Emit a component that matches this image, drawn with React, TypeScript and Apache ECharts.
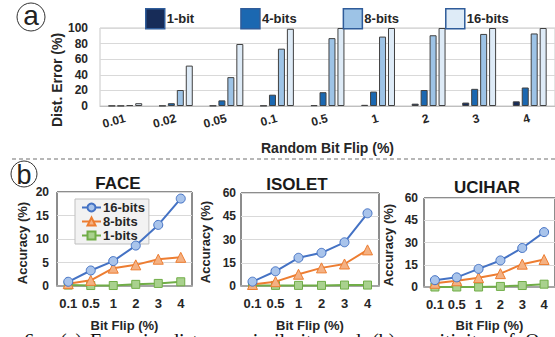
import React, { useEffect, useRef } from "react";
import * as echarts from "echarts";

const barCategories = ["0.01", "0.02", "0.05", "0.1", "0.5", "1", "2", "3", "4"];
const bar1bit = [0.3, 0.4, 0.5, 0.5, 1, 1.5, 3, 4.4, 6];
const bar4bits = [0.3, 3.6, 7.2, 14.5, 17.7, 18.5, 20.5, 22, 23.7];
const bar8bits = [1.2, 20.5, 37, 73.5, 87, 89, 90.7, 92.4, 93];
const bar16bits = [3.6, 51.8, 79.5, 99, 100, 100, 100, 100, 100];
const barYTicks = { min: 0, max: 100, interval: 20 };

const lineCategories = ["0.1", "0.5", "1", "2", "3", "4"];
const face16 = [0.9, 3.3, 5.3, 8.6, 13, 18.6];
const face8 = [0.5, 1.2, 3.8, 4.5, 5.7, 6.1];
const face1 = [0.2, 0.1, 0.1, 0.35, 0.55, 0.9];
const isolet16 = [2.8, 9.5, 18.2, 21.4, 28.2, 46.9];
const isolet8 = [1, 2.8, 7.6, 11.7, 14.2, 23.3];
const isolet1 = [0.4, 0.4, 0.4, 0.4, 0.6, 0.6];
const ucihar16 = [4.6, 6.5, 12.2, 17.9, 26.3, 37];
const ucihar8 = [2.5, 4.2, 6.3, 9, 15.4, 18.5];
const ucihar1 = [0, 0, 0, 0.4, 1, 1.9];
const faceTicks = { min: 0, max: 20, interval: 5 };
const otherTicks = { min: 0, max: 60, interval: 15 };

const FONT = "Liberation Sans";
const TXT = "#262626";

const barColors = ["#172c58", "#1b68b1", "#9dc3e6", "#deebf7"];
const lineColors = { b16: "#4472c4", b8: "#ed7d31", b1: "#70ad47" };
const fillColors = { b16: "#a9c4eb", b8: "#f4b183", b1: "#a9d18e" };

export default function App() {
  const topRef = useRef<HTMLDivElement>(null);
  const botRef = useRef<HTMLDivElement>(null);

  useEffect(() => {
    document.body.style.margin = "0";
    const a = echarts.init(topRef.current!, undefined, { renderer: "svg" });
    const b = echarts.init(botRef.current!, undefined, { renderer: "svg" });

    const barNames = ["1-bit", "4-bits", "8-bits", "16-bits"];
    const barData = [bar1bit, bar4bits, bar8bits, bar16bits];

    a.setOption({
      animation: false,
      textStyle: { fontFamily: FONT },
      legend: {
        left: 140,
        top: 3,
        itemWidth: 19,
        itemHeight: 20,
        itemGap: 46,
        textStyle: { fontFamily: FONT, fontWeight: "bold", fontSize: 13, color: TXT, padding: [0, 0, 0, -3] },
        data: barNames.map((n, i) => ({
          name: n,
          icon: "rect",
          itemStyle: { color: barColors[i], borderColor: "#2f5c9a", borderWidth: 1.5 },
        })),
      },
      grid: { left: 100, right: 0, top: 28, bottom: 49, show: true, borderColor: "#c8c8c8", borderWidth: 1 },
      xAxis: {
        type: "category",
        data: barCategories,
        axisTick: { show: false },
        axisLine: { lineStyle: { color: "#bfbfbf", width: 1 } },
        axisLabel: {
          rotate: 15,
          fontFamily: FONT,
          fontWeight: "bold",
          fontSize: 12,
          color: TXT,
          margin: 12,
        },
        name: "Random Bit Flip (%)",
        nameLocation: "middle",
        nameGap: 35,
        nameTextStyle: { fontFamily: FONT, fontWeight: "bold", fontSize: 14, color: TXT },
      },
      yAxis: {
        type: "value",
        min: barYTicks.min,
        max: barYTicks.max,
        interval: barYTicks.interval,
        axisLine: { show: false },
        axisTick: { show: false },
        axisLabel: { fontFamily: FONT, fontWeight: "bold", fontSize: 12, color: TXT, margin: 12 },
        splitLine: { lineStyle: { color: "#d9d9d9", width: 1 } },
      },
      series: barNames.map((n, i) => ({
        name: n,
        type: "bar",
        data: barData[i],
        barWidth: 7,
        barGap: "28%",
        itemStyle: { color: barColors[i], borderColor: "#404040", borderWidth: 1 },
      })),
      graphic: [
        { type: "circle", shape: { cx: 31, cy: 17, r: 14 }, style: { fill: "none", stroke: "#333", lineWidth: 1 } },
        {
          type: "text",
          x: 31,
          y: 15.5,
          style: { text: "a", fontFamily: FONT, fontSize: 28, fill: "#222", align: "center", verticalAlign: "middle" },
        },
        {
          type: "text",
          x: 57,
          y: 80,
          rotation: Math.PI / 2,
          style: {
            text: "Dist. Error (%)",
            fontFamily: FONT,
            fontWeight: "bold",
            fontSize: 14,
            fill: TXT,
            align: "center",
            verticalAlign: "middle",
          },
        },
        {
          type: "line",
          shape: { x1: 12, y1: 159, x2: 555, y2: 159 },
          style: { stroke: "#a0a0a0", lineWidth: 1.5, lineDash: [4, 3] },
        },
      ],
    });

    const grids = [
      { left: 57, width: 135, top: 32, height: 96 },
      { left: 241, width: 138, top: 33, height: 95 },
      { left: 424, width: 139, top: 38, height: 95 },
    ];
    const ticks = [faceTicks, otherTicks, otherTicks];
    const yMargins = [8, 5, 6];
    const nameGaps = [33, 33, 32];
    const datasets = [
      [face16, face8, face1],
      [isolet16, isolet8, isolet1],
      [ucihar16, ucihar8, ucihar1],
    ];
    const lineNames = ["16-bits", "8-bits", "1-bits"];
    const keys: Array<"b16" | "b8" | "b1"> = ["b16", "b8", "b1"];
    const symbols = ["circle", "triangle", "rect"];
    const symbolSizes = [9, 10, 8];

    const series: any[] = [];
    datasets.forEach((ds, gi) => {
      ds.forEach((vals, si) => {
        series.push({
          name: lineNames[si],
          type: "line",
          xAxisIndex: gi,
          yAxisIndex: gi,
          data: vals,
          symbol: symbols[si],
          symbolSize: symbolSizes[si],
          showAllSymbol: true,
          z: 10 - si,
          lineStyle: { color: lineColors[keys[si]], width: 2 },
          itemStyle: { color: fillColors[keys[si]], borderColor: lineColors[keys[si]], borderWidth: 1 },
        });
      });
    });

    const titles = [
      { t: "FACE", x: 118, y: 23 },
      { t: "ISOLET", x: 297, y: 24 },
      { t: "UCIHAR", x: 487, y: 27 },
    ];
    const yNames = [
      { x: 22, y: 83 },
      { x: 205, y: 82 },
      { x: 388, y: 85 },
    ];

    const caption = [
      { t: "6:", x: 24 },
      { t: "(a)", x: 60 },
      { t: "Error", x: 90 },
      { t: "in", x: 143 },
      { t: "distance", x: 169 },
      { t: "similarity", x: 245 },
      { t: "and", x: 332 },
      { t: "(b)", x: 372 },
      { t: "sensitivity", x: 405 },
      { t: "of", x: 498 },
      { t: "Q", x: 525 },
    ];

    b.setOption({
      animation: false,
      textStyle: { fontFamily: FONT },
      legend: {
        left: 75,
        top: 39,
        orient: "vertical",
        itemWidth: 19,
        itemHeight: 10,
        itemGap: 1,
        padding: [2, 4, 2, 6],
        backgroundColor: "#f2f2f2",
        borderColor: "#bfbfbf",
        borderWidth: 1,
        textStyle: { fontFamily: FONT, fontWeight: "bold", fontSize: 13, color: TXT, padding: [0, 0, 0, -3] },
        data: lineNames,
      },
      grid: grids.map((g) => ({ ...g, show: true, borderColor: "#1a1a1a", borderWidth: 1 })),
      xAxis: grids.map((_, gi) => ({
        type: "category",
        gridIndex: gi,
        data: lineCategories,
        boundaryGap: true,
        axisTick: { show: false },
        axisLine: { lineStyle: { color: "#a6a6a6", width: 2 } },
        axisLabel: { interval: 0, fontFamily: FONT, fontWeight: "bold", fontSize: 13, color: TXT, margin: 11 },
        name: "Bit Flip (%)",
        nameLocation: "middle",
        nameGap: nameGaps[gi],
        nameTextStyle: { fontFamily: FONT, fontWeight: "bold", fontSize: 13, color: TXT },
      })),
      yAxis: grids.map((_, gi) => ({
        type: "value",
        gridIndex: gi,
        min: ticks[gi].min,
        max: ticks[gi].max,
        interval: ticks[gi].interval,
        axisLine: { show: false },
        axisTick: { show: false },
        axisLabel: { fontFamily: FONT, fontWeight: "bold", fontSize: 12, color: TXT, margin: yMargins[gi] },
        splitLine: { lineStyle: { color: "#d9d9d9", width: 1 } },
      })),
      series,
      graphic: [
        { type: "circle", shape: { cx: 24, cy: 14, r: 13 }, style: { fill: "none", stroke: "#333", lineWidth: 1 } },
        {
          type: "text",
          x: 24,
          y: 14.5,
          style: { text: "b", fontFamily: FONT, fontSize: 27, fill: "#222", align: "center", verticalAlign: "middle" },
        },
        ...titles.map((t) => ({
          type: "text",
          x: t.x,
          y: t.y,
          style: {
            text: t.t,
            fontFamily: FONT,
            fontWeight: "bold",
            fontSize: 17,
            fill: "#1a1a1a",
            align: "center",
            verticalAlign: "middle",
          },
        })),
        ...yNames.map((p) => ({
          type: "text",
          x: p.x,
          y: p.y,
          rotation: Math.PI / 2,
          style: {
            text: "Accuracy (%)",
            fontFamily: FONT,
            fontWeight: "bold",
            fontSize: 13,
            fill: TXT,
            align: "center",
            verticalAlign: "middle",
          },
        })),
        ...caption.map((c) => ({
          type: "text",
          x: c.x,
          y: 171,
          style: { text: c.t, fontFamily: "Liberation Serif", fontSize: 20, fill: "#111", align: "left", verticalAlign: "top" },
        })),
      ],
    });

    return () => {
      a.dispose();
      b.dispose();
    };
  }, []);

  return (
    <div style={{ position: "relative", width: 555, height: 337, overflow: "hidden", background: "#fff" }}>
      <div ref={topRef} style={{ position: "absolute", left: 0, top: 0, width: 555, height: 160 }} />
      <div ref={botRef} style={{ position: "absolute", left: 0, top: 160, width: 555, height: 177 }} />
    </div>
  );
}
